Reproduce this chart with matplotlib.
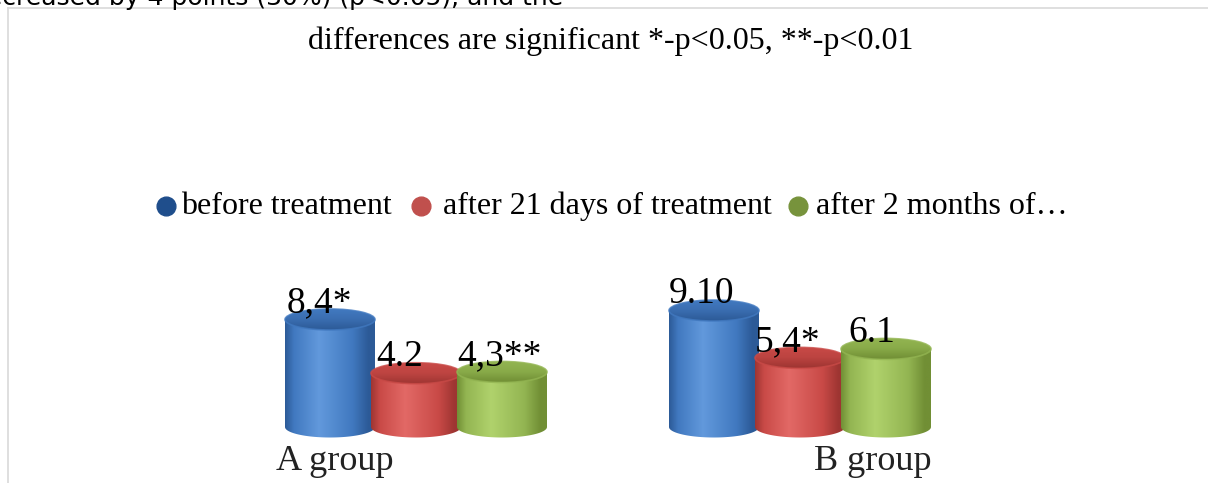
import numpy as np
import matplotlib
matplotlib.use("Agg")
import matplotlib.pyplot as plt
from matplotlib.patches import Ellipse, PathPatch
from matplotlib.path import Path
from matplotlib.colors import LinearSegmentedColormap
from matplotlib.lines import Line2D

# ---- data -------------------------------------------------------------
groups = ["A group", "B group"]
series_names = ["before treatment", "after 21 days of treatment", "after 2 months of…"]
before_treatment = [8.4, 9.10]
after_21_days = [4.2, 5.4]
after_2_months = [4.3, 6.1]
labels_before = ["8,4*", "9.10"]
labels_21_days = ["4.2", "5,4*"]
labels_2_months = ["4,3**", "6.1"]

series_values = [before_treatment, after_21_days, after_2_months]
series_labels = [labels_before, labels_21_days, labels_2_months]

# ---- styling ----------------------------------------------------------
# (dark edge, mid, highlight, top-face) per series
palette = [
    ("#2c5a97", "#4179c0", "#6299dc", "#3a6db0"),
    ("#9e3532", "#c94a47", "#e26966", "#bd4441"),
    ("#718f35", "#93b552", "#b0d26c", "#89ab49"),
]
legend_colors = ["#1f4e8c", "#c0504d", "#77933c"]

W, H = 1208, 483
fig = plt.figure(figsize=(W / 100, H / 100), dpi=100)
fig.patch.set_facecolor("white")

# chart axes: pixel geometry of the plotting area
px_per_unit = 12.8
base_px = 427.0
group_px = 384.0
first_group_px = 416.0
ylo, yhi = -1.2, 10.5
xlo, xhi = -0.6, 1.6
ax_left = first_group_px + xlo * group_px
ax_bottom = base_px - ylo * px_per_unit
ax = fig.add_axes([ax_left / W, (H - ax_bottom) / H,
                   (xhi - xlo) * group_px / W, (yhi - ylo) * px_per_unit / H])
ax.set_xlim(xlo, xhi)
ax.set_ylim(ylo, yhi)
ax.axis("off")

offset = 86 / group_px
width = 90 / group_px
ell = 10.5 / px_per_unit   # semi-height of the cylinder ellipses


def body_path(xc, w, v, e):
    t = np.linspace(np.pi, 2 * np.pi, 60)
    bx = xc + w / 2 * np.cos(t)
    by = e * np.sin(t)
    verts = [(xc - w / 2, v)] + list(zip(bx, by)) + [(xc + w / 2, v), (xc - w / 2, v)]
    codes = [Path.MOVETO] + [Path.LINETO] * (len(verts) - 2) + [Path.CLOSEPOLY]
    return Path(verts, codes)


def draw_cylinder(ax, xc, v, colors, z):
    dark, mid, light, top = colors
    w = width
    cmap = LinearSegmentedColormap.from_list(
        "body", [(0, dark), (0.1, mid), (0.38, light), (0.75, mid), (0.93, dark), (1, dark)])
    grad = np.linspace(0, 1, 256)[None, :]
    patch = PathPatch(body_path(xc, w, v, ell), facecolor="none", edgecolor="none", zorder=z)
    ax.add_patch(patch)
    im = ax.imshow(grad, cmap=cmap, aspect="auto", extent=(xc - w / 2, xc + w / 2, -ell, v),
                   origin="lower", zorder=z, interpolation="bilinear")
    im.set_clip_path(patch)
    # top face
    top_patch = Ellipse((xc, v), w, 2 * ell, facecolor="none", edgecolor="none", zorder=z + 0.1)
    ax.add_patch(top_patch)
    tcmap = LinearSegmentedColormap.from_list("top", [(0, dark), (0.5, top), (1, mid)])
    tgrad = np.linspace(1, 0, 64)[:, None]
    tim = ax.imshow(tgrad, cmap=tcmap, aspect="auto",
                    extent=(xc - w / 2, xc + w / 2, v - ell, v + ell),
                    origin="upper", zorder=z + 0.1, interpolation="bilinear")
    tim.set_clip_path(top_patch)
    ax.add_patch(Ellipse((xc, v), w, 2 * ell, facecolor="none", edgecolor=mid,
                         lw=1.2, alpha=0.8, zorder=z + 0.2))


serif = "Liberation Serif"
label_nudge = [[1, 0], [4, 0], [0, 5]]   # horizontal label nudges (points)
for gi in range(len(groups)):
    for si, (vals, labs) in enumerate(zip(series_values, series_labels)):
        xc = gi + (si - 1) * offset
        v = vals[gi]
        draw_cylinder(ax, xc, v, palette[si], z=2 + si)
        ax.annotate(labs[gi], (xc - width / 2, v + ell), xytext=(label_nudge[si][gi], -2.5),
                    textcoords="offset points", ha="left", va="baseline",
                    fontsize=27, family=serif, color="black", zorder=10,
                    annotation_clip=False)

# ---- overlay: page text, legend and frame -----------------------------
ov = fig.add_axes([0, 0, 1, 1], zorder=5)
ov.set_xlim(0, W)
ov.set_ylim(H, 0)
ov.axis("off")

ov.add_line(Line2D([8, W], [8, 8], color="#d9d9d9", lw=1.2))
ov.add_line(Line2D([8, 8], [8, H], color="#d9d9d9", lw=1.2))

ov.text(563, 5, "decreased by 4 points (30%) (p<0.05), and the", ha="right",
        va="baseline", fontsize=18, family="DejaVu Sans", color="black")
ov.text(611, 49, "differences are significant *-p<0.05, **-p<0.01", ha="center",
        va="baseline", fontsize=23, family=serif, color="black")

marker_x = [166, 421, 798]
text_x = [181, 443, 816]
for name, c, mx, tx in zip(series_names, legend_colors, marker_x, text_x):
    ov.plot([mx], [206], marker="o", ms=13.5, color=c, mec=c, ls="none")
    ov.text(tx, 214, name, ha="left", va="baseline", fontsize=23, family=serif, color="black")

group_label_x = [276, 932]
group_label_ha = ["left", "right"]
for name, gx, ha in zip(groups, group_label_x, group_label_ha):
    ov.text(gx, 470, name, ha=ha, va="baseline", fontsize=26, family=serif, color="#222222")

fig.savefig("out.png", dpi=100, facecolor="white")
